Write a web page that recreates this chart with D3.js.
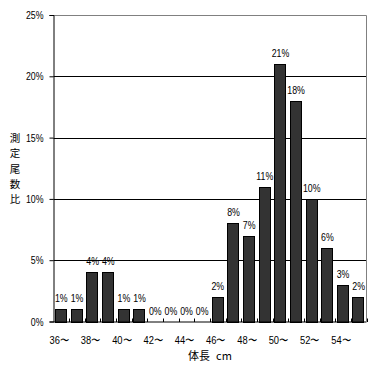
<!DOCTYPE html>
<html><head><meta charset="utf-8">
<script src="https://cdn.jsdelivr.net/npm/d3@7"></script>
<style>body{margin:0;background:#fff}svg{display:block}text{font-family:"Liberation Sans",Arial,sans-serif}</style>
</head><body>
<script>
const categories = ["36","37","38","39","40","41","42","43","44","45","46","47","48","49","50","51","52","53","54","55"];
const values = [1,1,4,4,1,1,0,0,0,0,2,8,7,11,21,18,10,6,3,2];
const xTickLabels = ["36〜","38〜","40〜","42〜","44〜","46〜","48〜","50〜","52〜","54〜"];
const yTicks = [0,5,10,15,20,25];
const xTitleParts = ["体長", "cm"];
const yTitle = "測定尾数比";

const W = 382, H = 367;
const m = {l:53.5, r:366.5, t:15, b:321.5};
const SX = 0.8;
const svg = d3.select("body").append("svg").attr("width",W).attr("height",H);

const x = d3.scaleBand().domain(categories).range([m.l,m.r]).paddingInner(0.21).paddingOuter(0.105);
const y = d3.scaleLinear().domain([0,25]).range([m.b,m.t]);

// gridlines
svg.append("g").selectAll("line").data(yTicks.filter(d=>d>0&&d<25)).join("line")
  .attr("x1",m.l).attr("x2",m.r).attr("y1",d=>Math.round(y(d))+0.5).attr("y2",d=>Math.round(y(d))+0.5)
  .attr("stroke","#000").attr("stroke-width",1);
// frame top & right gray
svg.append("path").attr("d",`M${m.l},${m.t+0.5}H${m.r}V${m.b}`).attr("fill","none").attr("stroke","#808080");

// bars
svg.append("g").selectAll("rect").data(values).join("rect")
  .attr("x",(d,i)=>Math.round(x(categories[i]))+0.5)
  .attr("y",d=>Math.round(y(d))+0.5)
  .attr("width",Math.round(x.bandwidth())-1)
  .attr("height",d=>Math.max(0,Math.round(y(0))-Math.round(y(d))))
  .attr("fill","#333333").attr("stroke","#000").attr("stroke-width",1);

// data labels
svg.append("g").selectAll("text").data(values).join("text")
  .attr("transform",(d,i)=>`translate(${x(categories[i])+x.bandwidth()/2},${y(d)-7}) scale(${SX},1)`)
  .attr("text-anchor","middle").attr("font-size","11px").attr("fill","#000")
  .text(d=>d+"%");

// y axis
const yAxis = d3.axisLeft(y).tickValues(yTicks).tickFormat(d=>d+"%").tickSize(4).tickPadding(6);
const gy = svg.append("g").attr("transform",`translate(${m.l},0)`).call(yAxis);
gy.select(".domain").attr("stroke","#000");
gy.selectAll(".tick line").attr("stroke","#000");
gy.selectAll("text").attr("font-size","11px").attr("font-family","'Liberation Sans',Arial,sans-serif").attr("fill","#000")
  .attr("x",-10/SX).attr("transform",`scale(${SX},1)`);

// x axis line with inward ticks at category boundaries
const bounds = d3.range(categories.length+1).map(i=> i<categories.length ? x(categories[i]) - x.step()*x.paddingInner()/2 : m.r);
svg.append("line").attr("x1",m.l).attr("x2",m.r).attr("y1",m.b+0.5).attr("y2",m.b+0.5).attr("stroke","#000");
svg.append("g").selectAll("line").data(bounds.slice(1)).join("line")
  .attr("x1",d=>Math.round(d)+0.5).attr("x2",d=>Math.round(d)+0.5).attr("y1",m.b+0.5).attr("y2",m.b-3)
  .attr("stroke","#000");

// x tick labels
svg.append("g").selectAll("text").data(xTickLabels).join("text")
  .attr("transform",(d,i)=>`translate(${x(categories[i*2])+x.bandwidth()/2-2},344) scale(0.85,1)`)
  .attr("text-anchor","middle").attr("font-size","11px").attr("fill","#000")
  .text(d=>d);

// x title
const xt = svg.append("text").attr("x",(m.l+m.r)/2).attr("y",360).attr("text-anchor","middle")
  .attr("font-size","11px").attr("fill","#000")
  .style("font-family","'Noto Sans CJK JP',sans-serif");
xt.append("tspan").text(xTitleParts[0]);
xt.append("tspan").attr("dx",6).text(xTitleParts[1]);

// y title (stacked vertical)
svg.append("g").selectAll("text").data(yTitle.split("")).join("text")
  .attr("x",15).attr("y",(d,i)=>138+i*15.3+4).attr("text-anchor","middle")
  .attr("font-size","10.5px").attr("fill","#000")
  .style("font-family","'Noto Sans CJK JP',sans-serif").text(d=>d);
</script>
</body></html>
